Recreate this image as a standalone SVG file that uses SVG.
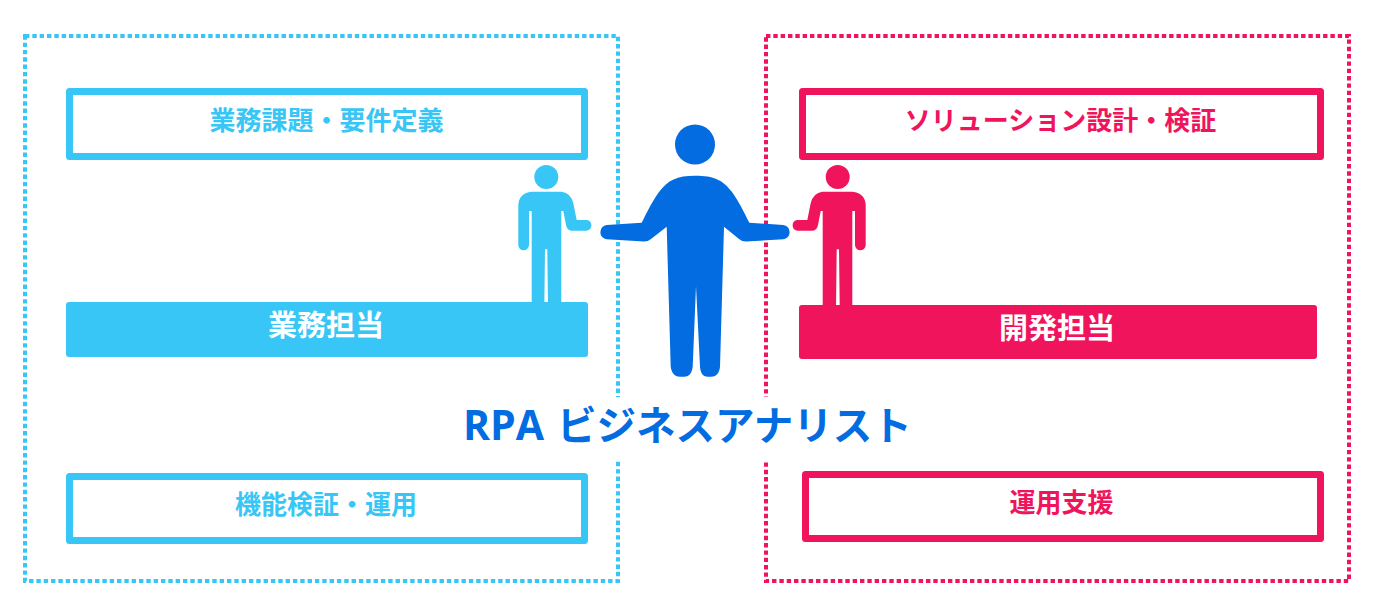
<svg xmlns="http://www.w3.org/2000/svg" width="1387" height="608" viewBox="0 0 1387 608">
<style>
text{font-family:"Noto Sans CJK JP","Noto Sans",sans-serif;font-weight:700;text-anchor:middle}
.l{font-size:26px}
.f{font-size:29px;fill:#fff}
.o{fill:#fff;stroke-width:7;stroke-linejoin:round}
.d{fill:none;stroke-width:4;stroke-dasharray:4.4 2.93}
.b{stroke:#38c6f7}
.r{stroke:#f0145c}
.bt{fill:#38c6f7}
.rt{fill:#f0145c}
</style>
<defs>
<path id="small" d="M531.7 191.7H561.7Q571 193 573.3 203.3L576.7 220H586.7A5.4 5.4 0 0 1 586.7 230.7H571Q567 230 566 225L563.3 211H561.3V306H548L547.3 249.3H545L544.3 306H531.7V211H529V245A5.3 5.3 0 0 1 518.3 245V205Q519 193 531.7 191.7Z"/>
</defs>
<g id="connectors"/>
<g id="frame-business"><rect class="d b" x="25" y="36" width="593" height="545"/></g>
<g id="frame-dev"><rect class="d r" x="766" y="36" width="583" height="545"/></g>
<g id="node-requirements"><rect class="o b" x="69.500" y="91.500" width="515" height="65"/><text class="l bt" x="326.500" y="129.500">業務課題・要件定義</text></g>
<g id="node-verify"><rect class="o b" x="69.500" y="476.500" width="515" height="64"/><text class="l bt" x="326" y="513.500">機能検証・運用</text></g>
<g id="node-solution"><rect class="o r" x="802.500" y="91.500" width="518" height="65"/><text class="l rt" x="1060.500" y="129.500">ソリューション設計・検証</text></g>
<g id="node-support"><rect class="o r" x="805.500" y="474.500" width="515" height="64"/><text class="l rt" x="1061.500" y="511.500">運用支援</text></g>
<g id="person-business" class="bt"><circle cx="546.300" cy="177" r="12"/><use href="#small"/></g>
<g id="person-dev" class="rt"><circle cx="837.700" cy="177" r="12"/><use href="#small" transform="translate(1384 0) scale(-1 1)"/></g>
<g id="node-business"><rect class="bt" x="66" y="302" width="522" height="55" rx="3"/><text class="f" x="326" y="335.500">業務担当</text></g>
<g id="node-dev"><rect class="rt" x="799" y="305" width="518" height="54" rx="3"/><text class="f" x="1057" y="338.500">開発担当</text></g>
<g id="person-analyst" fill="#026ce0"><circle cx="695" cy="144.500" r="20"/><path d="M695 175.700C714 175.700 723 180 732 192C738 200 744 212 749.300 222.700L783.300 225A7.200 7.200 0 0 1 783.300 239.300L746 241.500Q742 241.500 739 239L724 226.700L720 366.700C719.500 372 717 376.700 711 376.700H708C702 376.700 700.500 372 700 366.700L696 286L692.700 366.700C692 372 690 376.700 684 376.700H680C674 376.700 671.500 372 670.700 366.700L666.700 226.700L651 239Q648 241.500 644 241.500L606.700 239.300A7.200 7.200 0 0 1 606.700 225L641.700 222.700C647 212 653 200 659 192C668 180 677 175.700 695 175.700Z"/></g>
<g id="title"><rect x="458" y="397" width="456" height="63" fill="#fff"/><text y="440" fill="#026ce0" style="text-anchor:start"><tspan x="463" font-size="41" style="font-family:'Open Sans','Noto Sans',sans-serif">RPA</tspan> <tspan x="557" font-size="39.500">ビジネスアナリスト</tspan></text></g>
</svg>
